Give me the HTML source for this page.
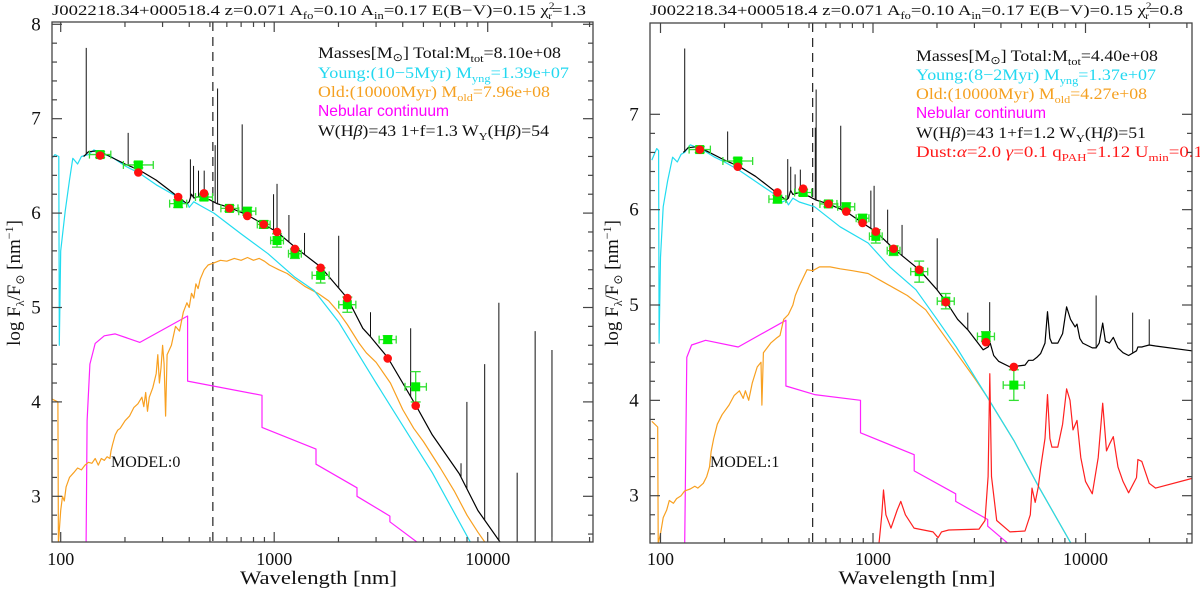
<!DOCTYPE html>
<html><head><meta charset="utf-8"><style>
html,body{margin:0;padding:0;background:#fff;}
svg{display:block;}
text{font-family:"Liberation Serif",serif;}
.sans{font-family:"Liberation Sans",sans-serif;}
</style></head><body>
<svg id="chart" width="1200" height="594" viewBox="0 0 1200 594" xmlns="http://www.w3.org/2000/svg">
<defs>
<clipPath id="clip0"><rect x="52" y="22" width="541" height="520"/></clipPath>
<clipPath id="clip1"><rect x="650" y="23" width="542" height="520"/></clipPath>
</defs>
<!-- Left panel texts -->
<g font-size="15" fill="#111">
<text x="52" y="15" textLength="534" lengthAdjust="spacingAndGlyphs">J002218.34+000518.4  z=0.071  A<tspan font-size="10" dy="4">fo</tspan><tspan dy="-4">=0.10  A</tspan><tspan font-size="10" dy="4">in</tspan><tspan dy="-4">=0.17  E(B−V)=0.15  χ</tspan><tspan font-size="9" dy="-6">2</tspan><tspan font-size="9" dx="-5" dy="10">r</tspan><tspan dy="-4">=1.3</tspan></text>
</g>
<g font-size="16">
<text x="318" y="58" fill="#111" textLength="243" lengthAdjust="spacingAndGlyphs">Masses[M<tspan font-size="11" dy="3">⊙</tspan><tspan dy="-3">] Total:M</tspan><tspan font-size="11" dy="4">tot</tspan><tspan dy="-4">=8.10e+08</tspan></text>
<text x="318" y="78" fill="#22d8f0" textLength="251" lengthAdjust="spacingAndGlyphs">Young:(10−5Myr) M<tspan font-size="11" dy="4">yng</tspan><tspan dy="-4">=1.39e+07</tspan></text>
<text x="318" y="97" fill="#f5a020" textLength="232" lengthAdjust="spacingAndGlyphs">Old:(10000Myr) M<tspan font-size="11" dy="4">old</tspan><tspan dy="-4">=7.96e+08</tspan></text>
<text class="sans" x="318" y="116" fill="#ff00ff" textLength="131" lengthAdjust="spacingAndGlyphs">Nebular continuum</text>
<text x="318" y="136" fill="#111" textLength="231" lengthAdjust="spacingAndGlyphs">W(H<tspan font-style="italic">β</tspan>)=43  1+f=1.3  W<tspan font-size="11" dy="4">Y</tspan><tspan dy="-4">(H</tspan><tspan font-style="italic">β</tspan>)=54</text>
<text x="111" y="467" fill="#111" font-size="16">MODEL:0</text>
</g>
<!-- Right panel texts -->
<g font-size="15" fill="#111">
<text x="650" y="15" textLength="533" lengthAdjust="spacingAndGlyphs">J002218.34+000518.4  z=0.071  A<tspan font-size="10" dy="4">fo</tspan><tspan dy="-4">=0.10  A</tspan><tspan font-size="10" dy="4">in</tspan><tspan dy="-4">=0.17  E(B−V)=0.15  χ</tspan><tspan font-size="9" dy="-6">2</tspan><tspan font-size="9" dx="-5" dy="10">r</tspan><tspan dy="-4">=0.8</tspan></text>
</g>
<g font-size="16">
<text x="916" y="61" fill="#111" textLength="242" lengthAdjust="spacingAndGlyphs">Masses[M<tspan font-size="11" dy="3">⊙</tspan><tspan dy="-3">] Total:M</tspan><tspan font-size="11" dy="4">tot</tspan><tspan dy="-4">=4.40e+08</tspan></text>
<text x="916" y="80" fill="#22d8f0" textLength="240" lengthAdjust="spacingAndGlyphs">Young:(8−2Myr) M<tspan font-size="11" dy="4">yng</tspan><tspan dy="-4">=1.37e+07</tspan></text>
<text x="916" y="99" fill="#f5a020" textLength="231" lengthAdjust="spacingAndGlyphs">Old:(10000Myr) M<tspan font-size="11" dy="4">old</tspan><tspan dy="-4">=4.27e+08</tspan></text>
<text class="sans" x="916" y="118" fill="#ff00ff" textLength="130" lengthAdjust="spacingAndGlyphs">Nebular continuum</text>
<text x="916" y="138" fill="#111" textLength="230" lengthAdjust="spacingAndGlyphs">W(H<tspan font-style="italic">β</tspan>)=43  1+f=1.2  W<tspan font-size="11" dy="4">Y</tspan><tspan dy="-4">(H</tspan><tspan font-style="italic">β</tspan>)=51</text>
<text x="916" y="157" fill="#ff1a1a" textLength="287" lengthAdjust="spacingAndGlyphs">Dust:<tspan font-style="italic">α</tspan>=2.0  <tspan font-style="italic">γ</tspan>=0.1  q<tspan font-size="11" dy="4">PAH</tspan><tspan dy="-4">=1.12  U</tspan><tspan font-size="11" dy="4">min</tspan><tspan dy="-4">=0.1</tspan></text>
<text x="710" y="467" fill="#111" font-size="16">MODEL:1</text>
</g>
</svg>
<script>
// ---------- DATA: LEFT PANEL (MODEL:0) ----------
const filtWave = [153,231,355,469,617,748,893,1031,1250,1650,2200,3400,4600];
const filtXerr = [0.05,0.07,0.04,0.04,0.04,0.04,0.03,0.03,0.03,0.04,0.04,0.04,0.05];
const obs0 = [6.62,6.51,6.10,6.17,6.05,6.02,5.88,5.71,5.57,5.34,5.03,4.66,4.16];
const obsErr0 = [0.02,0.02,0.03,0.02,0.02,0.03,0.03,0.06,0.04,0.07,0.07,0.03,0.15];
const mod0 = [6.61,6.43,6.17,6.21,6.05,5.97,5.88,5.80,5.62,5.42,5.10,4.46,3.96];
const young0 = [[91,6.58],[94,6.62],[98,6.6],[98.5,4.6],[100,5.6],[105,6.02],[110,6.35],[114,6.58],[120,6.52],[125,6.6],[135,6.62],[143,6.67],[160,6.62],[172,6.6],[200,6.5],[235,6.42],[280,6.3],[347,6.18],[380,6.1],[394,6.1],[400,6.06],[420,6.12],[450,6.08],[522,6.0],[700,5.78],[935,5.57],[1250,5.32],[1537,5.18],[2000,4.85],[2426,4.54],[3000,4.2],[4510,3.56],[5500,3.25],[8360,2.5]];
const old0 = [[91,4.03],[97,4.0],[97.5,2.5],[100,2.85],[102,3.0],[104,2.95],[106,3.1],[110,3.2],[115,3.25],[120,3.3],[125,3.28],[130,3.33],[135,3.36],[140,3.35],[145,3.4],[150,3.33],[155,3.4],[160,3.38],[165,3.42],[170,3.4],[172,3.48],[175,3.55],[180,3.65],[185,3.7],[190,3.72],[200,3.8],[210,3.85],[220,3.94],[230,3.98],[240,4.05],[245,3.95],[250,4.1],[255,3.9],[260,4.05],[270,4.15],[280,4.3],[285,4.5],[290,4.2],[295,4.36],[300,4.6],[305,4.4],[310,3.85],[315,4.5],[330,4.6],[345,4.8],[360,4.75],[375,4.95],[390,5.05],[400,5.0],[410,5.15],[420,5.1],[430,5.25],[440,5.2],[450,5.3],[470,5.4],[490,5.45],[520,5.47],[560,5.5],[600,5.49],[650,5.52],[700,5.5],[750,5.53],[800,5.5],[850,5.52],[900,5.49],[950,5.45],[1050,5.4],[1150,5.36],[1250,5.3],[1400,5.22],[1600,5.15],[1800,5.07],[2000,4.95],[2200,4.82],[2500,4.62],[2700,4.52],[3000,4.42],[3500,4.2],[4000,3.92],[4500,3.72],[5000,3.58],[6000,3.3],[7000,3.05],[8000,2.8],[9000,2.62],[9800,2.5]];
const neb0 = [[131.5,2.5],[133,3.8],[137,4.4],[145,4.62],[160,4.70],[180,4.72],[235,4.63],[393,4.91],[393,4.22],[877,4.07],[877,3.73],[1570,3.50],[1570,3.34],[2443,3.09],[2443,3.0],[3484,2.79],[3484,2.73],[4760,2.5]];
const total0 = [[128,6.6],[131,6.62],[135,6.65],[150,6.66],[170,6.6],[200,6.52],[236,6.45],[280,6.35],[320,6.25],[360,6.16],[390,6.1],[400,6.12],[410,6.2],[420,6.16],[450,6.18],[500,6.14],[540,6.1],[617,6.06],[748,5.98],[893,5.88],[1031,5.8],[1250,5.64],[1650,5.43],[2200,5.1],[2600,4.78],[2800,4.7],[3400,4.47],[4000,4.2],[4670,3.94],[5500,3.65],[7350,3.24],[9000,2.85],[11560,2.5]];
const lineWave0 = [131.7,207,405,419,442,470,529,543,708,993,1031,1172,1387,2005,2825,4357,7500,7990,9680,11280,13740,16680,20000];
const lineTop0 = [7.75,6.85,6.57,6.5,6.45,6.45,6.72,7.32,6.94,6.2,6.31,5.98,5.79,5.76,4.95,4.78,3.35,4.0,4.40,5.05,3.25,4.75,4.55];

// ---------- DATA: RIGHT PANEL (MODEL:1) ----------
const obs1 = [6.63,6.51,6.11,6.18,6.06,6.03,5.91,5.72,5.57,5.35,5.04,4.67,4.16];
const obsErr1 = [0.02,0.02,0.03,0.02,0.02,0.03,0.03,0.06,0.04,0.1,0.07,0.04,0.15];
const mod1 = [6.63,6.45,6.18,6.22,6.06,5.98,5.86,5.77,5.59,5.37,5.03,4.61,4.35];
const young1 = [[91,6.52],[96,6.64],[98,6.62],[98.5,4.6],[100,5.5],[103,6.03],[108,6.3],[114,6.55],[120,6.5],[125,6.58],[130,6.6],[138,6.68],[145,6.66],[160,6.62],[180,6.55],[200,6.5],[232,6.42],[270,6.32],[300,6.25],[340,6.17],[360,6.12],[375,6.08],[390,6.1],[400,6.05],[420,6.12],[450,6.08],[531,6.03],[700,5.82],[948,5.65],[1200,5.4],[1592,5.16],[2000,4.85],[2466,4.56],[3435,4.04],[4600,3.58],[6000,3.1],[8550,2.5]];
const old1 = [[91,3.78],[97,3.72],[97.5,2.5],[100,2.6],[103,2.77],[107,2.85],[110,2.95],[115,2.92],[119,2.97],[125,3.0],[130,3.05],[138,3.07],[145,3.1],[150,3.08],[159,3.13],[165,3.2],[170,3.3],[173,3.46],[178,3.6],[185,3.75],[195,3.85],[210,3.95],[222,4.05],[235,4.1],[245,4.02],[251,4.1],[260,4.0],[270,4.18],[285,4.35],[297,4.4],[300,3.95],[305,4.5],[330,4.6],[350,4.65],[365,4.68],[380,4.85],[400,4.9],[420,5.0],[431,5.1],[450,5.2],[489,5.37],[520,5.36],[560,5.4],[628,5.40],[700,5.38],[800,5.36],[948,5.33],[1100,5.25],[1250,5.18],[1450,5.1],[1771,4.95],[2466,4.5],[3034,4.22],[3435,4.04],[4600,3.58],[6000,3.1],[8550,2.5]];
const neb1 = [[130,2.5],[133,4.45],[140,4.58],[163,4.63],[232,4.56],[389,4.84],[389,4.15],[531,4.06],[873,4.0],[873,3.66],[1563,3.43],[1563,3.26],[2449,3.02],[2449,2.94],[3467,2.75],[3467,2.68],[4318,2.5]];
const total1 = [[128,6.6],[131,6.62],[135,6.65],[150,6.66],[170,6.6],[200,6.52],[236,6.45],[280,6.35],[320,6.25],[360,6.16],[390,6.1],[400,6.12],[410,6.2],[420,6.16],[450,6.18],[500,6.14],[540,6.1],[617,6.06],[748,5.98],[893,5.86],[1031,5.77],[1250,5.59],[1650,5.37],[2000,5.16],[2200,5.04],[2500,4.85],[2793,4.74],[3296,4.53],[3480,4.56],[3560,4.6],[3700,4.47],[3900,4.41],[4416,4.35],[5190,4.37],[5400,4.42],[5660,4.42],[5900,4.45],[6150,4.49],[6450,4.6],[6625,4.93],[6800,4.65],[6950,4.6],[7410,4.6],[7800,4.7],[8150,4.98],[8500,4.85],[8930,4.77],[9120,4.8],[9400,4.65],[9700,4.6],[10770,4.55],[11220,4.55],[11600,4.6],[12050,4.81],[12400,4.62],[12970,4.6],[13520,4.66],[14220,4.55],[15020,4.5],[15950,4.47],[17380,4.52],[17640,4.56],[18400,4.56],[19950,4.58],[21380,4.57],[31600,4.52]];
const dust1 = [[1067,2.5],[1100,2.8],[1120,3.06],[1150,2.8],[1216,2.66],[1300,2.85],[1352,2.94],[1420,2.8],[1560,2.66],[1915,2.62],[2025,2.56],[2100,2.62],[2270,2.64],[3155,2.65],[3365,2.74],[3480,3.2],[3545,4.28],[3610,3.2],[3820,2.74],[4415,2.62],[5190,2.63],[5500,2.8],[5600,3.08],[5800,2.93],[6000,3.1],[6150,3.29],[6450,3.6],[6625,4.06],[6800,3.6],[6950,3.51],[7410,3.51],[7800,3.75],[8150,4.12],[8450,4.0],[8730,3.69],[9120,3.79],[9500,3.4],[10000,3.15],[10770,3.02],[11480,3.4],[12050,3.97],[12560,3.47],[12970,3.54],[13520,3.62],[14220,3.3],[15020,3.15],[15950,3.03],[17380,3.19],[17640,3.38],[18400,3.36],[19950,3.13],[21380,3.08],[31600,3.18]];
const lineWave1 = [130,207,397,410,430,455,535,540,705,977,1012,1172,1370,2005,2793,3541,11220,16670,19950];
const lineTop1 = [7.69,6.82,6.53,6.45,6.37,6.42,6.86,7.26,6.88,6.2,6.25,6.0,5.84,5.70,4.92,5.03,5.1,4.92,4.85];

// ---------- DRAWING ----------
const NS = 'http://www.w3.org/2000/svg';
const svg = document.getElementById('chart');
function mk(tag, attrs, parent) {
  const e = document.createElementNS(NS, tag);
  for (const k in attrs) e.setAttribute(k, attrs[k]);
  (parent || svg).appendChild(e);
  return e;
}
const panels = [
  {id:'left', clip:'clip0', x0:60.7, dec:213.5, xl:52, xr:593, yt:22, yb:542, yref:24.3, vref:8, ppu:94.4, vmax:8, dashW:516,
   obs:obs0, obsErr:obsErr0, mod:mod0, young:young0, old:old0, neb:neb0, total:total0, dust:null, lw:lineWave0, lt:lineTop0},
  {id:'right', clip:'clip1', x0:660.5, dec:212.5, xl:650, xr:1192, yt:23, yb:543, yref:114.3, vref:7, ppu:95.35, vmax:7, dashW:520,
   obs:obs1, obsErr:obsErr1, mod:mod1, young:young1, old:old1, neb:neb1, total:total1, dust:dust1, lw:lineWave1, lt:lineTop1}
];
function interp(arr, lw) {
  const L = Math.log10(lw);
  for (let i = 0; i < arr.length - 1; i++) {
    const a = Math.log10(arr[i][0]), b = Math.log10(arr[i+1][0]);
    if (L >= a && L <= b) { const t = b === a ? 0 : (L - a) / (b - a); return arr[i][1] + t * (arr[i+1][1] - arr[i][1]); }
  }
  return null;
}
panels.forEach(function(p) {
  const X = function(w) { return p.x0 + p.dec * (Math.log10(w) - 2); };
  const Y = function(v) { return p.yref + (p.vref - v) * p.ppu; };
  const vmin = p.vref - (p.yb - p.yref) / p.ppu;
  const g = mk('g', {});
  
  
  const cg = mk('g', {'clip-path': 'url(#' + p.clip + ')'}, g);
  
  
  function curve(arr, color, name, w) {
    const d = arr.map(function(pt, i) { return (i ? 'L' : 'M') + X(pt[0]).toFixed(1) + ',' + Y(pt[1]).toFixed(1); }).join('');
    const path = mk('path', {d: d, fill: 'none', stroke: color, 'stroke-width': w || 1.2, 'stroke-linejoin': 'round'}, cg);
    
    
  }
  // dashed line
  const dl = mk('line', {x1: X(p.dashW), x2: X(p.dashW), y1: p.yt, y2: p.yb, stroke: '#222', 'stroke-width': 1.2, 'stroke-dasharray': '9,6'}, cg);
  
  
  curve(p.neb, '#ff22ff', p.id + '-nebular-continuum-line');
  curve(p.old, '#f8a020', p.id + '-old-population-line');
  curve(p.young, '#22dcf0', p.id + '-young-population-line');
  if (p.dust) curve(p.dust, '#ff2020', p.id + '-dust-emission-line');
  curve(p.total, '#000', p.id + '-total-model-line');
  // emission line spikes
  p.lw.forEach(function(w, i) {
    let base = interp(p.total, w);
    if (base === null || base < vmin) base = vmin;
    const sp = mk('line', {x1: X(w), x2: X(w), y1: Y(base), y2: Y(p.lt[i]), stroke: '#111', 'stroke-width': 1}, cg);
    
    
  });
  // observed points with error bars
  filtWave.forEach(function(w, i) {
    const cx = X(w), cy = Y(p.obs[i]);
    const xa = X(w / Math.pow(10, filtXerr[i])), xb = X(w * Math.pow(10, filtXerr[i]));
    const ya = Y(p.obs[i] + p.obsErr[i]), yb = Y(p.obs[i] - p.obsErr[i]);
    const eg = mk('g', {stroke: '#33e033', 'stroke-width': 1.3}, cg);
    
    
    mk('line', {x1: xa, x2: xb, y1: cy, y2: cy}, eg);
    mk('line', {x1: xa, x2: xa, y1: cy - 4, y2: cy + 4}, eg);
    mk('line', {x1: xb, x2: xb, y1: cy - 4, y2: cy + 4}, eg);
    mk('line', {x1: cx, x2: cx, y1: ya - 1, y2: yb + 1}, eg);
    mk('line', {x1: cx - 5, x2: cx + 5, y1: ya - 1, y2: ya - 1}, eg);
    mk('line', {x1: cx - 5, x2: cx + 5, y1: yb + 1, y2: yb + 1}, eg);
    mk('rect', {x: cx - 4.5, y: cy - 4.5, width: 9, height: 9, fill: '#00ee00', stroke: 'none'}, eg);
  });
  filtWave.forEach(function(w, i) {
    const c = mk('circle', {cx: X(w), cy: Y(p.mod[i]), r: 4.3, fill: '#ff1010'}, cg);
    
    
  });
  // frame
  const fr = mk('rect', {x: p.xl, y: p.yt, width: p.xr - p.xl, height: p.yb - p.yt, fill: 'none', stroke: '#444', 'stroke-width': 1.3}, g);
  
  
  const tk = mk('g', {stroke: '#444', 'stroke-width': 1.2}, g);
  
  
  // x ticks
  for (let d = 1; d <= 5; d++) {
    for (let m = 1; m <= 9; m++) {
      const w = m * Math.pow(10, d);
      const x = X(w);
      if (x < p.xl + 1 || x > p.xr - 1) continue;
      const len = m === 1 ? 10 : 5;
      mk('line', {x1: x, x2: x, y1: p.yb, y2: p.yb - len}, tk);
      mk('line', {x1: x, x2: x, y1: p.yt, y2: p.yt + len}, tk);
    }
  }
  // y ticks
  for (let v = Math.ceil(vmin * 5) / 5; v <= p.vmax + 0.05; v += 0.2) {
    const vv = Math.round(v * 5) / 5;
    const y = Y(vv);
    if (y < p.yt || y > p.yb) continue;
    const major = Math.abs(vv - Math.round(vv)) < 0.01;
    const len = major ? 10 : 5;
    mk('line', {x1: p.xl, x2: p.xl + len, y1: y, y2: y}, tk);
    mk('line', {x1: p.xr, x2: p.xr - len, y1: y, y2: y}, tk);
  }
  // tick labels
  const ylabels = [3, 4, 5, 6, 7, 8];
  ylabels.forEach(function(v) {
    if (v > p.vmax) return;
    const t = mk('text', {x: p.xl - 16, y: Y(v) + 6, 'font-size': 19, 'text-anchor': 'middle', fill: '#111'}, g);
    t.textContent = String(v);
    
    
  });
  const xlabels = [100, 1000, 10000];
  xlabels.forEach(function(w) {
    const t = mk('text', {x: X(w), y: 565, 'font-size': 18, 'text-anchor': 'middle', fill: '#111'}, g);
    t.textContent = String(w);
    
    
  });
  // axis titles
  const xt = mk('text', {x: (p.xl + p.xr) / 2 - 4, y: 584, 'font-size': 19, 'text-anchor': 'middle', fill: '#111', textLength: 157, lengthAdjust: 'spacingAndGlyphs'}, g);
  xt.textContent = 'Wavelength [nm]';
  
  
  const yt = mk('text', {x: 0, y: 0, 'font-size': 19, 'text-anchor': 'middle', fill: '#111', transform: 'translate(' + (p.xl - 32) + ',283) rotate(-90)'}, g);
  
  
  yt.innerHTML = 'log F<tspan font-size="12" dy="4">λ</tspan><tspan dy="-4">/F</tspan><tspan font-size="12" dy="4">⊙</tspan><tspan dy="-4"> [nm</tspan><tspan font-size="12" dy="-7">−1</tspan><tspan dy="7">]</tspan>';
});
</script>
</body></html>
